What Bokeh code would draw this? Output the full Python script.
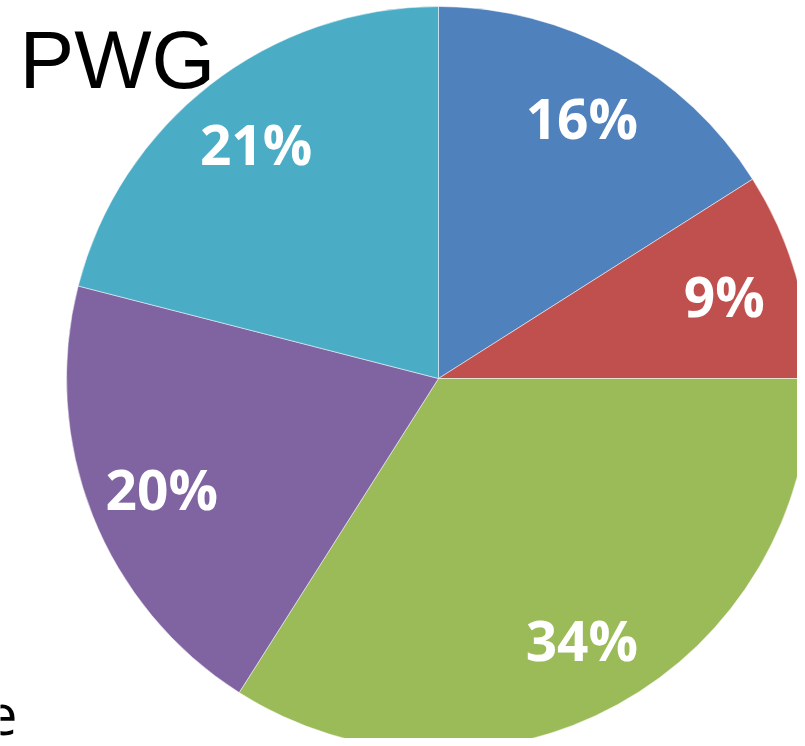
import math
from bokeh.plotting import figure
from bokeh.models import Range1d, ColumnDataSource
from bokeh.core.properties import value
from bokeh.embed import file_html
from bokeh.resources import INLINE

categories = ["A", "B", "C", "D", "E"]
shares = [16, 9, 34, 20, 21]
labels = ["16%", "9%", "34%", "20%", "21%"]
colors = ["#4F81BD", "#C0504D", "#9BBB59", "#8064A2", "#4BACC6"]

W, H = 797, 738
cx, cy, R = 438, H - 378, 372

total = sum(shares)
starts, ends, lx, ly = [], [], [], []
cum = 0.0
for s in shares:
    a0 = math.pi / 2 - 2 * math.pi * cum / total
    cum += s
    a1 = math.pi / 2 - 2 * math.pi * cum / total
    starts.append(a0)
    ends.append(a1)
    mid = (a0 + a1) / 2
    lx.append(cx + 0.8 * R * math.cos(mid))
    ly.append(cy + 0.8 * R * math.sin(mid))

src = ColumnDataSource(dict(cat=categories, start=starts, end=ends, color=colors,
                            lx=lx, ly=ly, label=labels))

p = figure(width=W, height=H, output_backend="svg", toolbar_location=None,
           x_range=Range1d(0, W), y_range=Range1d(0, H), min_border=0)
p.axis.visible = False
p.grid.visible = False
p.outline_line_color = None
p.background_fill_color = "white"

p.wedge(x=cx, y=cy, radius=R, start_angle="start", end_angle="end", direction="clock",
        fill_color="color", line_color="white", line_width=0.5, source=src)

p.text(x="lx", y="ly", text="label", source=src, text_color="white",
       text_font=value("Open Sans"), text_font_style="bold", text_font_size="55px",
       text_align="center", text_baseline="middle")

p.text(x=[19], y=[H - 59], text=["PWG"], text_color="black",
       text_font=value("Liberation Sans"), text_font_size="82px",
       text_align="left", text_baseline="middle")

p.text(x=[17], y=[H - 714], text=["e"], text_color="black",
       text_font=value("Open Sans"), text_font_size="56px",
       text_align="right", text_baseline="middle")

open("out.html", "w").write(file_html(p, INLINE))
